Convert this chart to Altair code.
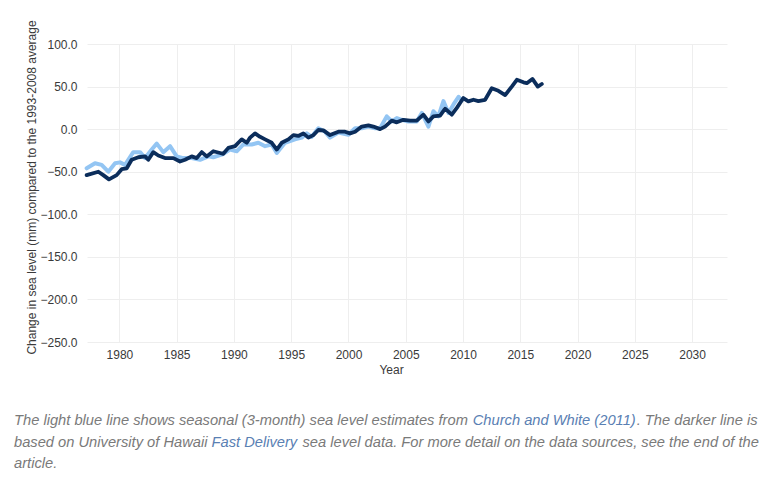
import altair as alt
import pandas as pd

# Dark line: University of Hawaii Fast Delivery (year, mm)
dark_year = [1977.14, 1978.16, 1978.59, 1979.09, 1979.76, 1980.20, 1980.64, 1981.07, 1981.65, 1982.24,
             1982.52, 1982.96, 1983.40, 1983.98, 1984.71, 1985.29, 1985.73, 1986.31, 1986.75, 1987.19,
             1987.62, 1988.20, 1988.79, 1989.07, 1989.51, 1990.10, 1990.38, 1990.68, 1991.12, 1991.41,
             1991.84, 1992.28, 1992.72, 1993.30, 1993.74, 1994.17, 1994.75, 1995.19, 1995.62, 1996.06,
             1996.50, 1996.93, 1997.37, 1997.81, 1998.39, 1999.12, 1999.70, 2000.14, 2000.58, 2001.16,
             2001.74, 2002.17, 2002.76, 2003.19, 2003.78, 2004.22, 2004.79, 2005.38, 2005.96, 2006.54,
             2006.98, 2007.41, 2008.00, 2008.44, 2009.02, 2009.46, 2010.03, 2010.47, 2010.91, 2011.34,
             2011.93, 2012.51, 2013.09, 2013.68, 2014.26, 2014.70, 2015.28, 2015.57, 2016.06, 2016.53,
             2016.88]
dark_mm = [-54, -50, -54, -59, -54, -47, -46, -36, -33, -32,
           -36, -27, -31, -34, -34, -38, -36, -32, -34, -27,
           -32, -26, -28, -29, -22, -20, -16, -12, -16, -10,
           -5, -9, -12, -16, -24, -16, -12, -7, -8, -5,
           -10, -7, -1, -1.5, -7, -3, -3, -5, -3, 3,
           4.4, 3, 0, 3, 10, 8, 11, 10, 10, 17,
           9, 15, 16, 24, 17, 25, 36.5, 32.6, 34.5, 33,
           34.5, 48, 45, 40, 50, 58, 55, 54, 59, 50,
           53]

# Light blue line: Church and White (2011), seasonal (year, mm)
light_year = [1977.14, 1977.87, 1978.45, 1979.03, 1979.62, 1980.05, 1980.49, 1981.21, 1981.80, 1982.24,
              1982.82, 1983.26, 1983.83, 1984.42, 1985.00, 1985.58, 1986.31, 1987.04, 1987.76, 1988.20,
              1988.93, 1989.66, 1990.24, 1990.82, 1991.55, 1992.13, 1992.72, 1993.30, 1993.74, 1994.46,
              1995.33, 1995.92, 1996.36, 1996.79, 1997.37, 1997.95, 1998.39, 1999.12, 1999.99, 2000.58,
              2001.16, 2001.74, 2002.33, 2002.76, 2003.34, 2003.78, 2004.22, 2004.65, 2005.23, 2005.96,
              2006.40, 2006.98, 2007.41, 2007.85, 2008.29, 2008.73, 2009.17, 2009.61, 2009.90]
light_mm = [-46, -40, -42, -50, -40, -39, -42, -27, -27, -34,
            -24, -17, -27, -20, -32, -34, -34, -36, -32, -33,
            -30, -24, -26, -18, -18, -16, -20, -18, -28, -16,
            -12, -10, -5, -9, 1, -3, -10, -4, -6.6, 1,
            1, 3, 1, 1, 15, 9, 13, 11, 9, 9,
            19, 3, 21, 15, 33, 19, 29, 38, 34]

x_ticks = list(range(1980, 2031, 5))
y_ticks = list(range(-250, 101, 50))

caption_line1 = ["The light blue line shows seasonal (3-month) sea level estimates from",
                 "Church and White (2011)", ". The darker line is"]
caption_line2 = ["based on University of Hawaii", "Fast Delivery",
                 "sea level data. For more detail on the data sources, see the end of the"]
caption_line3 = ["article."]

FONT = "Liberation Sans"
GRAY = "#7a7a7a"
LINK = "#5a80b3"

dark_df = pd.DataFrame({"year": dark_year, "mm": dark_mm})
light_df = pd.DataFrame({"year": light_year, "mm": light_mm})

x_enc = alt.X("year:Q",
              scale=alt.Scale(domain=[1977.17, 2033.05], nice=False, zero=False),
              axis=alt.Axis(values=x_ticks, format="d", title="Year", grid=True,
                            gridColor="#eeeeee", domain=False, ticks=False, labelPadding=7,
                            labelFont=FONT, labelFontSize=12, labelColor="#3a3a3a",
                            titleFont=FONT, titleFontSize=12, titleFontWeight="normal",
                            titleColor="#3a3a3a", titleX=304, titleY=27,
                            titleBaseline="middle", titleAlign="center"))
y_enc = alt.Y("mm:Q",
              scale=alt.Scale(domain=[-250, 100], nice=False),
              axis=alt.Axis(values=y_ticks, format=".1f",
                            title="Change in sea level (mm) compared to the 1993-2008 average",
                            grid=True, gridColor="#eeeeee", domain=False, ticks=False,
                            labelPadding=10, labelFont=FONT, labelFontSize=12,
                            labelColor="#3a3a3a", titleFont=FONT, titleFontSize=12,
                            titleFontWeight="normal", titleColor="#3a3a3a",
                            titleX=-56, titleY=143, titleAngle=270,
                            titleAlign="center", titleBaseline="middle"))

light = alt.Chart(light_df).mark_line(color="#93c5f3", strokeWidth=4, strokeCap="round",
                                      strokeJoin="round").encode(x=x_enc, y=y_enc)
dark = alt.Chart(dark_df).mark_line(color="#0b2d5b", strokeWidth=3.8, strokeCap="round",
                                    strokeJoin="round").encode(x="year:Q", y="mm:Q")


def cap(text, x, y, color):
    return alt.Chart(pd.DataFrame({"t": [text]})).mark_text(
        align="left", baseline="alphabetic", font=FONT, fontSize=14.7,
        fontStyle="italic", color=color
    ).encode(x=alt.value(x), y=alt.value(y), text="t:N")


layers = [light, dark]
line_y = [381, 402.5, 423.5]
xs1 = [-73, 385.7, 549.7]
xs2 = [-73, 124.5, 215.5]
cols = [GRAY, LINK, GRAY]
for t, x, c in zip(caption_line1, xs1, cols):
    layers.append(cap(t, x, line_y[0], c))
for t, x, c in zip(caption_line2, xs2, cols):
    layers.append(cap(t, x, line_y[1], c))
layers.append(cap(caption_line3[0], -73, line_y[2], GRAY))

chart = alt.layer(*layers).properties(
    width=640, height=298,
    autosize=alt.AutoSizeParams(type="none"),
    padding={"left": 79, "top": 36, "right": 36, "bottom": 128},
    background="white",
).configure_view(stroke=None)

chart.save("out.html", embed_options={"renderer": "svg", "actions": False})
